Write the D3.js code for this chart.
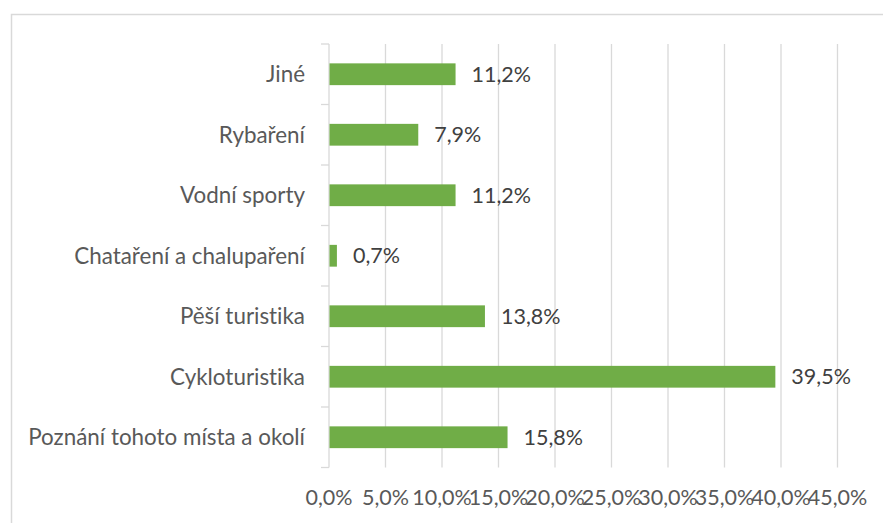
<!DOCTYPE html>
<html>
<head>
<meta charset="utf-8">
<script src="https://cdn.jsdelivr.net/npm/d3@7"></script>
<style>
  body { margin: 0; background: #fff; }
  svg { display: block; font-family: Lato, "Open Sans", sans-serif; font-variant-ligatures: none; }
</style>
</head>
<body>
<svg width="883" height="523"></svg>
<script>
// data
var categories = ["Jiné", "Rybaření", "Vodní sporty", "Chataření a chalupaření",
                  "Pěší turistika", "Cykloturistika", "Poznání tohoto místa a okolí"];
var values = [11.2, 7.9, 11.2, 0.7, 13.8, 39.5, 15.8];
var tickValues = [0, 5, 10, 15, 20, 25, 30, 35, 40, 45];

var svg = d3.select("svg"),
    width = 883,
    height = 523;

var margin = {left: 329, right: 45.5, top: 44, bottom: 55.5};
var fontSize = "21.5px";

var fmt = function(v) { return v.toFixed(1).replace(".", ",") + "%"; };

// chart border (only top/left visible in frame)
svg.append("rect")
    .attr("x", 11.5).attr("y", 14.5)
    .attr("width", 900).attr("height", 600)
    .attr("fill", "none")
    .attr("stroke", "#d9d9d9")
    .attr("stroke-width", 1.5);

var x = d3.scaleLinear()
    .domain([0, 45])
    .range([margin.left, width - margin.right]);

var y = d3.scaleBand()
    .domain(categories)
    .range([margin.top, height - margin.bottom])
    .paddingInner(0.64)
    .paddingOuter(0.32);

var yTop = margin.top, yBottom = height - margin.bottom;

// gridlines
svg.append("g")
    .selectAll("line")
    .data(tickValues.slice(1))
    .enter().append("line")
    .attr("x1", function(d) { return x(d); })
    .attr("x2", function(d) { return x(d); })
    .attr("y1", yTop)
    .attr("y2", yBottom)
    .attr("stroke", "#d9d9d9")
    .attr("stroke-width", 1.3);

// category axis line + ticks between bands
var step = (yBottom - yTop) / categories.length;
var ax = svg.append("g").attr("stroke", "#d9d9d9").attr("stroke-width", 1.3);
ax.append("line")
    .attr("x1", x(0)).attr("x2", x(0))
    .attr("y1", yTop).attr("y2", yBottom);
ax.selectAll("line.tick")
    .data(d3.range(categories.length + 1))
    .enter().append("line")
    .attr("class", "tick")
    .attr("x1", x(0) - 8).attr("x2", x(0))
    .attr("y1", function(i) { return yTop + i * step; })
    .attr("y2", function(i) { return yTop + i * step; });

// bars
svg.append("g")
    .selectAll("rect")
    .data(values)
    .enter().append("rect")
    .attr("x", x(0) + 0.5)
    .attr("y", function(d, i) { return y(categories[i]); })
    .attr("width", function(d) { return x(d) - x(0) - 0.5; })
    .attr("height", y.bandwidth())
    .attr("fill", "#70ad47");

// value labels
svg.append("g")
    .selectAll("text")
    .data(values)
    .enter().append("text")
    .attr("x", function(d) { return x(d) + 16; })
    .attr("y", function(d, i) { return y(categories[i]) + y.bandwidth() / 2; })
    .attr("dy", "0.35em")
    .attr("fill", "#404040")
    .style("font-size", fontSize)
    .text(fmt);

// category labels
svg.append("g")
    .selectAll("text")
    .data(categories)
    .enter().append("text")
    .attr("x", x(0) - 24)
    .attr("y", function(d) { return y(d) + y.bandwidth() / 2; })
    .attr("dy", "0.35em")
    .attr("text-anchor", "end")
    .attr("fill", "#595959")
    .style("font-size", "22.4px")
    .text(function(d) { return d; });

// x tick labels
svg.append("g")
    .selectAll("text")
    .data(tickValues)
    .enter().append("text")
    .attr("x", function(d) { return x(d); })
    .attr("y", 497)
    .attr("dy", "0.35em")
    .attr("text-anchor", "middle")
    .attr("fill", "#595959")
    .style("font-size", fontSize)
    .text(fmt);
</script>
</body>
</html>
